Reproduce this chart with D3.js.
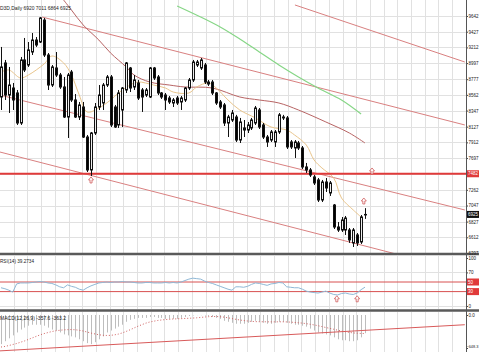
<!DOCTYPE html>
<html><head><meta charset="utf-8">
<script src="https://cdn.jsdelivr.net/npm/d3@7"></script>
<style>
body{margin:0;background:#fff;overflow:hidden}
svg{display:block}
text{font-family:"Liberation Sans",Arial,sans-serif}
</style>
</head><body>
<svg id="c" width="479" height="352"></svg>
<script>
// ---------------- DATA ----------------
const titleText = "D3D,Daily  6920 7011 6864 6925";
const opens  = [8533,8999,8560,8656,8588,8177,9040,8971,9149,9313,9286,9587,9108,8697,8930,8834,8670,8259,8875,8492,8259,8396,7985,7534,8040,8396,8451,8697,8807,8396,8150,8355,8629,8930,8670,8725,8629,8560,8533,8930,8807,8588,8560,8519,8451,8519,8465,8492,8656,8766,8971,8930,8971,8738,8738,8588,8465,8424,8177,8218,8259,7944,8109,8081,8109,8177,8355,8150,7985,7944,7917,8054,8259,8246,7917,7835,7903,7835,7575,7534,7438,7397,7123,7369,7219,7054,6753,6712,6712,6712,6535,6644,6548,6920];
const highs  = [9218,9040,8944,8725,8629,9081,9341,9286,9409,9354,9628,9615,9135,8971,9149,8862,8807,8862,8903,8574,8465,8465,8013,8054,8451,8697,8725,8834,8834,8424,8629,8670,9012,8944,8834,8766,8656,8656,8944,8944,8834,8601,8588,8547,8519,8547,8547,8670,8793,9040,9040,9067,8999,8766,8766,8601,8492,8451,8288,8355,8288,8246,8218,8191,8246,8410,8382,8177,8013,8081,8081,8314,8288,8273,7944,7944,7931,7862,7630,7561,7465,7424,7397,7424,7383,7068,6821,6890,6904,6739,6739,6671,6917,7011];
const lows   = [8355,8492,8314,8355,8150,8150,8875,8944,9108,9218,9272,9081,8629,8670,8807,8643,8246,7972,8465,8246,8218,7972,7506,7451,8013,8355,8355,8670,8122,8109,8109,8122,8588,8601,8629,8492,8328,8533,8519,8766,8560,8506,8355,8437,8396,8424,8355,8465,8629,8738,8944,8903,8711,8684,8560,8424,8369,8136,7985,8191,7917,7903,7985,8040,8081,8150,8095,7958,7849,7917,7849,8027,8218,7821,7821,7698,7807,7547,7493,7438,7328,7095,7095,7232,7178,6726,6685,6685,6644,6535,6479,6493,6521,6864];
const closes = [8944,8560,8697,8492,8177,9040,8903,9177,9313,9245,9615,9108,8697,8944,8834,8670,8259,8834,8492,8259,8424,7985,7534,8040,8396,8560,8697,8807,8150,8122,8588,8656,8999,8656,8766,8519,8533,8629,8930,8793,8588,8533,8492,8465,8492,8451,8519,8656,8766,9012,9012,9040,8738,8711,8588,8451,8396,8177,8259,8314,7944,8191,8081,8150,8218,8382,8122,7985,7917,8054,8054,8288,8246,7849,7849,7917,7835,7575,7534,7465,7356,7123,7369,7287,7356,6753,6712,6849,6876,6576,6712,6535,6890,6925];

const priceTicks = [9642,9427,9212,8997,8777,8562,8347,8127,7912,7697,7262,7047,6827,6612,6397];
const supportLevel = 7482;
const lastPrice = 6925;

// moving averages: [bar index, price]
const maFast = [[0,8875],[2,8903],[5,8793],[7,8834],[11,8985],[13,9094],[16,8999],[18,8834],[20,8560],[22,8328],[25,8382],[28,8492],[30,8588],[33,8697],[35,8738],[39,8697],[42,8656],[44,8601],[48,8588],[50,8670],[53,8725],[55,8656],[58,8492],[61,8355],[65,8246],[69,8122],[73,8081],[75,8013],[78,7876],[80,7670],[82,7561],[85,7424],[87,7150],[90,6986],[92,6890]];
const maSlow = [[16,9861],[18,9724],[21,9519],[25,9313],[28,9135],[32,8944],[34,8834],[38,8738],[43,8697],[47,8670],[54,8656],[61,8533],[66,8492],[71,8451],[76,8355],[83,8191],[89,8040],[93,7903]];
const maLong = [[45,9779],[51,9628],[56,9491],[61,9327],[66,9149],[71,8971],[76,8807],[81,8656],[87,8492],[92,8300]];

// channel trend lines: [[index, price],[index, price]]
const channels = [
  [[10.5,9628],[118.5,8150]],
  [[-0.3,8560],[118.5,6986]],
  [[-0.3,7780],[101.9,6370]],
  [[75.1,9793],[118.5,9012]]
];
const arrowsMain = [[23,7397],[94.8,7520],[92.7,7109]];

// RSI
const rsiLabel = "RSI(14) 39.2734";
const rsi = [38,36,33,29,46,48,48,48,49,50,51,50,48,47,44,40,38,44,41,39,35,33,38,42,45,48,49,50,49,50,50,51,50,50,49,48,48,49,49,48,48,48,49,48,49,48,50,53,56,58,57,56,52,49,47,44,41,38,35,33,40,40,39,41,45,48,47,45,43,46,47,49,48,40,39,38,38,35,31,29,28,27,29,31,27,24,23,26,27,25,24,27,34,39.27];
const rsiTicks = [100,70,0];
const rsiLevels = [50,30];
const arrowsRsi = [[85.8,15],[91,15]];

// MACD
const macdLabel = "MACD(12,26,9) -357.6 -363.2";
const macdMain = [-572,-515,-458,-400,-343,-286,-248,-210,-191,-191,-191,-210,-248,-286,-305,-343,-381,-400,-420,-439,-477,-515,-553,-572,-534,-477,-420,-343,-305,-267,-229,-191,-133,-95,-76,-57,-57,-57,-38,-38,-57,-57,-76,-76,-76,-76,-57,-38,-19,-8,-3,-4,-10,-19,-38,-57,-76,-114,-133,-153,-172,-172,-172,-153,-133,-114,-133,-153,-172,-172,-153,-133,-133,-153,-172,-191,-191,-210,-229,-267,-305,-343,-362,-381,-400,-439,-477,-496,-496,-515,-515,-496,-439,-357.6];
const macdSignal = [-629,-618,-600,-580,-560,-535,-510,-480,-450,-420,-390,-365,-345,-325,-310,-300,-292,-288,-286,-290,-300,-315,-335,-355,-372,-388,-398,-402,-400,-390,-375,-352,-322,-290,-255,-220,-190,-160,-138,-122,-108,-98,-90,-84,-78,-75,-72,-68,-64,-60,-55,-48,-40,-33,-30,-30,-34,-42,-55,-70,-85,-98,-108,-118,-125,-130,-132,-133,-134,-135,-135,-134,-134,-136,-140,-146,-152,-160,-170,-182,-195,-210,-228,-246,-262,-280,-298,-315,-330,-342,-352,-358,-362,-363.2];
const macdTicks = [0,-648.3];
const macdTrend = [[-0.3,-705],[118.5,-191]];

// ---------------- DRAW ----------------
const svg = d3.select('#c');
const AX = 466;
const P1 = [0,253], P2 = [256,309], P3 = [312,352];
const FS = 4.5;

const x  = d3.scaleLinear().domain([0, closes.length-1]).range([1, 365]);
const y  = d3.scaleLinear().domain([6397, 9642]).range([253, 16]);
const yr = d3.scaleLinear().domain([0,100]).range([306,258]);
const ym = d3.scaleLinear().domain([-648.3,0]).range([348,315]);

const defs = svg.append('defs');
[['c1',P1],['c2',P2],['c3',P3]].forEach(([id,p])=>{
  defs.append('clipPath').attr('id',id).append('rect')
    .attr('x',0).attr('y',p[0]).attr('width',AX).attr('height',p[1]-p[0]);
});

const gridC = '#e1e1e1';
const vg = svg.append('g');
for (let k=1;k*13.7<AX;k++){
  const gx = Math.round(k*13.7)+0.5;
  [P1,P2,P3].forEach(p=>vg.append('line').attr('x1',gx).attr('x2',gx)
    .attr('y1',p[0]).attr('y2',p[1]).attr('stroke',gridC));
}
svg.append('g').selectAll('line').data(priceTicks.concat([supportLevel])).join('line')
  .attr('x1',0).attr('x2',AX).attr('y1',d=>Math.round(y(d))+0.5).attr('y2',d=>Math.round(y(d))+0.5)
  .attr('stroke',gridC);
svg.append('g').selectAll('line').data([70,0]).join('line')
  .attr('x1',0).attr('x2',AX).attr('y1',d=>Math.round(yr(d))+0.5).attr('y2',d=>Math.round(yr(d))+0.5)
  .attr('stroke',gridC);

// main panel content
const m = svg.append('g').attr('clip-path','url(#c1)');
const lp = d3.line().x(d=>x(d[0])).y(d=>y(d[1]));
channels.forEach(c=>m.append('path').attr('d',lp(c)).attr('fill','none')
  .attr('stroke','#d98080').attr('stroke-width',1));
const lc = d3.line().x(d=>x(d[0])).y(d=>y(d[1])).curve(d3.curveCatmullRom);
m.append('path').attr('d',lc(maLong)).attr('fill','none').attr('stroke','#86d686').attr('stroke-width',1.2);
m.append('path').attr('d',lc(maSlow)).attr('fill','none').attr('stroke','#b86464').attr('stroke-width',1);
m.append('path').attr('d',lc(maFast)).attr('fill','none').attr('stroke','#e9c58c').attr('stroke-width',1);

m.append('line').attr('x1',0).attr('x2',AX).attr('y1',y(supportLevel)).attr('y2',y(supportLevel))
  .attr('stroke','#e03a3a').attr('stroke-width',2);

// candles
const idx = d3.range(closes.length);
const cg = m.append('g');
idx.forEach(i=>{
  const cx = Math.round(x(i));
  cg.append('line').attr('x1',cx+0.5).attr('x2',cx+0.5)
    .attr('y1',y(highs[i])).attr('y2',y(lows[i])).attr('stroke','#111').attr('stroke-width',1);
  const up = closes[i]>=opens[i];
  const top = y(Math.max(opens[i],closes[i])), bot = y(Math.min(opens[i],closes[i]));
  cg.append('rect').attr('x',cx-0.5).attr('width',2)
    .attr('y',top).attr('height',Math.max(0.5,bot-top))
    .attr('fill',up?'#ededed':'#000').attr('stroke','#111').attr('stroke-width',1);
});

function arrow(g,px,py){
  const p = `M${px},${py-3} L${px+2.5},${py} L${px+1},${py} L${px+1},${py+3} L${px-1},${py+3} L${px-1},${py} L${px-2.5},${py} Z`;
  g.append('path').attr('d',p).attr('fill','#fff').attr('stroke','#d05a5a').attr('stroke-width',0.8);
}
arrowsMain.forEach(a=>arrow(m,x(a[0]),y(a[1])));

svg.append('text').attr('x',0).attr('y',10).attr('font-size',5).attr('fill','#222')
  .attr('textLength',71).attr('lengthAdjust','spacingAndGlyphs').text(titleText);

// RSI panel
const r = svg.append('g').attr('clip-path','url(#c2)');
rsiLevels.forEach(v=>r.append('line').attr('x1',0).attr('x2',AX).attr('y1',yr(v)).attr('y2',yr(v))
  .attr('stroke','#d85050').attr('stroke-width',1));
r.append('path').attr('d',d3.line().x((d,i)=>x(i)).y(d=>yr(d))(rsi))
  .attr('fill','none').attr('stroke','#8fb8d6').attr('stroke-width',1);
arrowsRsi.forEach(a=>arrow(r,x(a[0]),yr(a[1])));
svg.append('text').attr('x',0).attr('y',263).attr('font-size',5).attr('fill','#222')
  .attr('textLength',34).attr('lengthAdjust','spacingAndGlyphs').text(rsiLabel);

// MACD panel
const mc = svg.append('g').attr('clip-path','url(#c3)');
mc.selectAll('line.h').data(macdMain).join('line')
  .attr('x1',(d,i)=>Math.round(x(i))+0.5).attr('x2',(d,i)=>Math.round(x(i))+0.5)
  .attr('y1',ym(0)).attr('y2',d=>ym(d)).attr('stroke','#bdbdbd').attr('stroke-width',1);
mc.append('path').attr('d',d3.line().x((d,i)=>x(i)).y(d=>ym(d))(macdSignal))
  .attr('fill','none').attr('stroke','#d06060').attr('stroke-width',1).attr('stroke-dasharray','1,2');
mc.append('path').attr('d',d3.line().x(d=>x(d[0])).y(d=>ym(d[1]))(macdTrend))
  .attr('fill','none').attr('stroke','#d85a5a').attr('stroke-width',1);
svg.append('text').attr('x',0).attr('y',320).attr('font-size',5).attr('fill','#222')
  .attr('textLength',66).attr('lengthAdjust','spacingAndGlyphs').text(macdLabel);

[254,310.5].forEach(sy=>svg.append('line').attr('x1',0).attr('x2',479).attr('y1',sy).attr('y2',sy)
  .attr('stroke','#5a5a5a').attr('stroke-width',2.5));

// axes
const axisStyle = g=>{
  g.select('.domain').remove();
  g.selectAll('line').attr('stroke','#444');
  g.selectAll('text').attr('font-size',FS).attr('fill','#222')
    .attr('font-family','"Liberation Sans",Arial,sans-serif');
};
svg.append('g').attr('transform',`translate(${AX},0)`)
  .call(d3.axisRight(y).tickValues(priceTicks).tickSize(2).tickPadding(0.5).tickFormat(d3.format('d')))
  .call(axisStyle);
svg.append('g').attr('transform',`translate(${AX},0)`)
  .call(d3.axisRight(yr).tickValues(rsiTicks).tickSize(2).tickPadding(0.5).tickFormat(d3.format('d')))
  .call(axisStyle);
svg.append('g').attr('transform',`translate(${AX},0)`)
  .call(d3.axisRight(ym).tickValues(macdTicks).tickSize(2).tickPadding(0.5).tickFormat(d=>d===0?'0.0':d3.format('.1f')(d)))
  .call(axisStyle)
  .call(g=>g.selectAll('text').filter(d=>d!==0)
    .attr('text-anchor','end').attr('x',12.4).attr('y',-1.5).attr('font-size',3.9));
svg.append('line').attr('x1',AX+0.5).attr('x2',AX+0.5).attr('y1',0).attr('y2',352)
  .attr('stroke','#555').attr('stroke-width',1);

function box(yy,label,fill){
  svg.append('rect').attr('x',AX+1).attr('y',yy-3.5).attr('width',12).attr('height',7).attr('fill',fill);
  svg.append('text').attr('x',AX+2).attr('y',yy+1.6).attr('font-size',FS).attr('fill','#fff')
    .attr('textLength',label.length>2?10:5).attr('lengthAdjust','spacingAndGlyphs').text(label);
}
box(y(supportLevel),d3.format('d')(supportLevel),'#e03a3a');
box(y(lastPrice),d3.format('d')(lastPrice),'#111');
rsiLevels.forEach(v=>box(yr(v),String(v),'#e03a3a'));
</script>
</body></html>
